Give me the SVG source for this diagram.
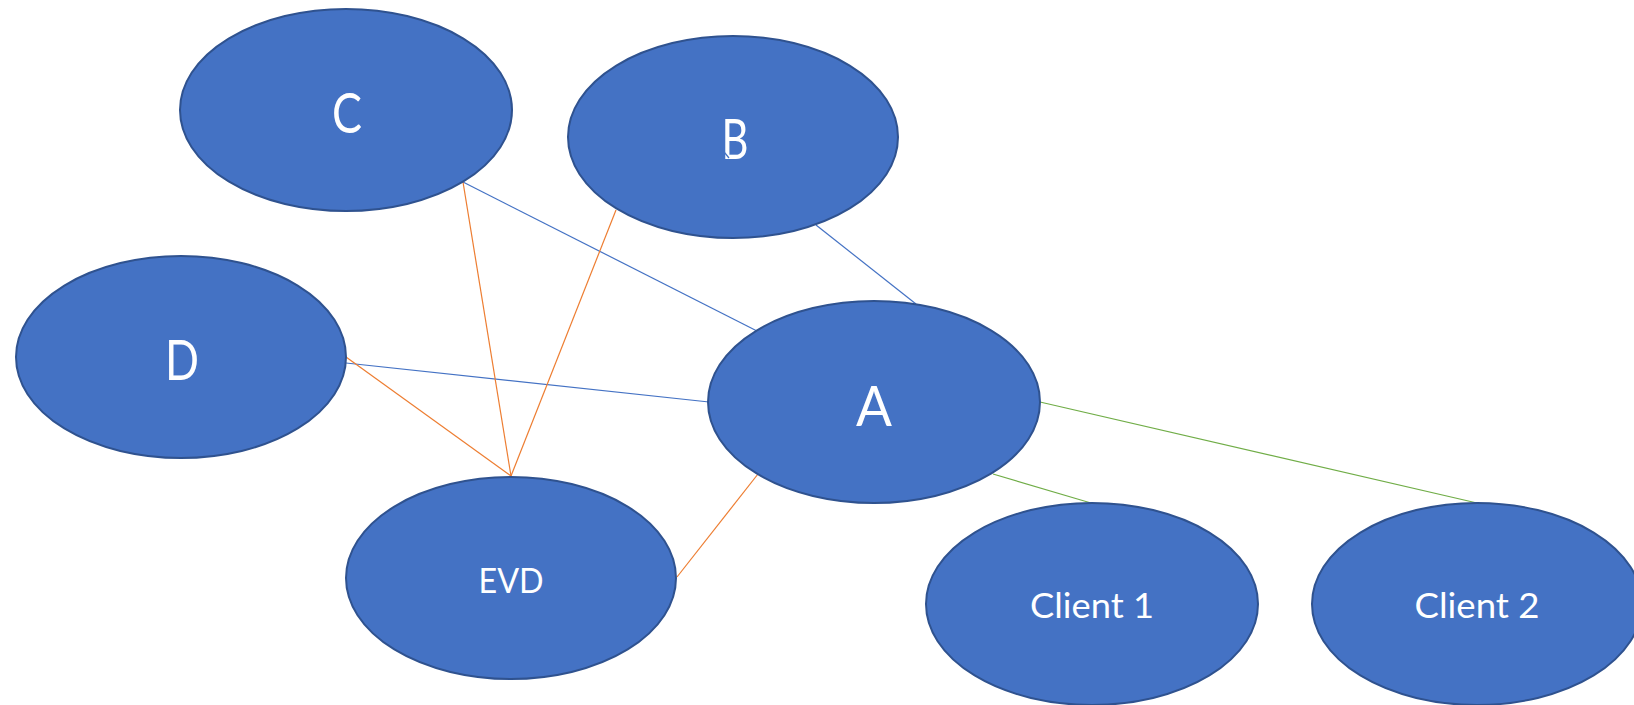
<svg xmlns="http://www.w3.org/2000/svg" width="1634" height="705" viewBox="0 0 1634 705">
<style>
.node{fill:#4472C4;stroke:#2F528F;stroke-width:2}
.lbl{fill:#FFFFFF;font-family:Lato,"Open Sans","Liberation Sans",sans-serif;text-anchor:middle}
.big{font-size:56px}
.small{font-size:35px}
.blue{stroke:#4472C4;stroke-width:1.2;fill:none}
.orange{stroke:#ED7D31;stroke-width:1.2;fill:none}
.green{stroke:#70AD47;stroke-width:1.2;fill:none}
</style>
<rect width="1634" height="705" fill="#FFFFFF"/>
<g id="connectors">
<line class="blue" x1="463" y1="182" x2="757" y2="331"/>
<line class="blue" x1="816" y1="225" x2="916" y2="304"/>
<line class="blue" x1="346" y1="363" x2="709" y2="402"/>
<line class="orange" x1="346" y1="357" x2="511" y2="476"/>
<line class="orange" x1="463" y1="182" x2="511" y2="476"/>
<line class="orange" x1="616" y1="210" x2="511" y2="476"/>
<line class="orange" x1="677" y1="577" x2="758" y2="474"/>
<line class="green" x1="993" y1="474" x2="1091" y2="503"/>
<line class="green" x1="1040" y1="402" x2="1477" y2="503"/>
</g>
<g id="node-C">
<ellipse class="node" cx="346" cy="110" rx="166" ry="101"/>
<text class="lbl big" x="347" y="133" textLength="30" lengthAdjust="spacingAndGlyphs">C</text>
</g>
<g id="node-B">
<ellipse class="node" cx="733" cy="137" rx="165" ry="101"/>
<text class="lbl big" x="735" y="159" textLength="27" lengthAdjust="spacingAndGlyphs">B</text>
<line class="blue" x1="720" y1="147" x2="729" y2="158"/>
</g>
<g id="node-D">
<ellipse class="node" cx="181" cy="357" rx="165" ry="101"/>
<text class="lbl big" x="182" y="380" textLength="34" lengthAdjust="spacingAndGlyphs">D</text>
</g>
<g id="node-A">
<ellipse class="node" cx="874" cy="402" rx="166" ry="101"/>
<text class="lbl big" x="874" y="426" textLength="36" lengthAdjust="spacingAndGlyphs">A</text>
</g>
<g id="node-EVD">
<ellipse class="node" cx="511" cy="578" rx="165" ry="101"/>
<text class="lbl small" x="511" y="593" textLength="65" lengthAdjust="spacingAndGlyphs">EVD</text>
</g>
<g id="node-Client1">
<ellipse class="node" cx="1092" cy="604" rx="166" ry="101"/>
<text class="lbl small" x="1092" y="618" textLength="124" lengthAdjust="spacingAndGlyphs">Client 1</text>
</g>
<g id="node-Client2">
<ellipse class="node" cx="1477" cy="604" rx="165" ry="101"/>
<text class="lbl small" x="1477" y="618" textLength="125" lengthAdjust="spacingAndGlyphs">Client 2</text>
</g>
</svg>
